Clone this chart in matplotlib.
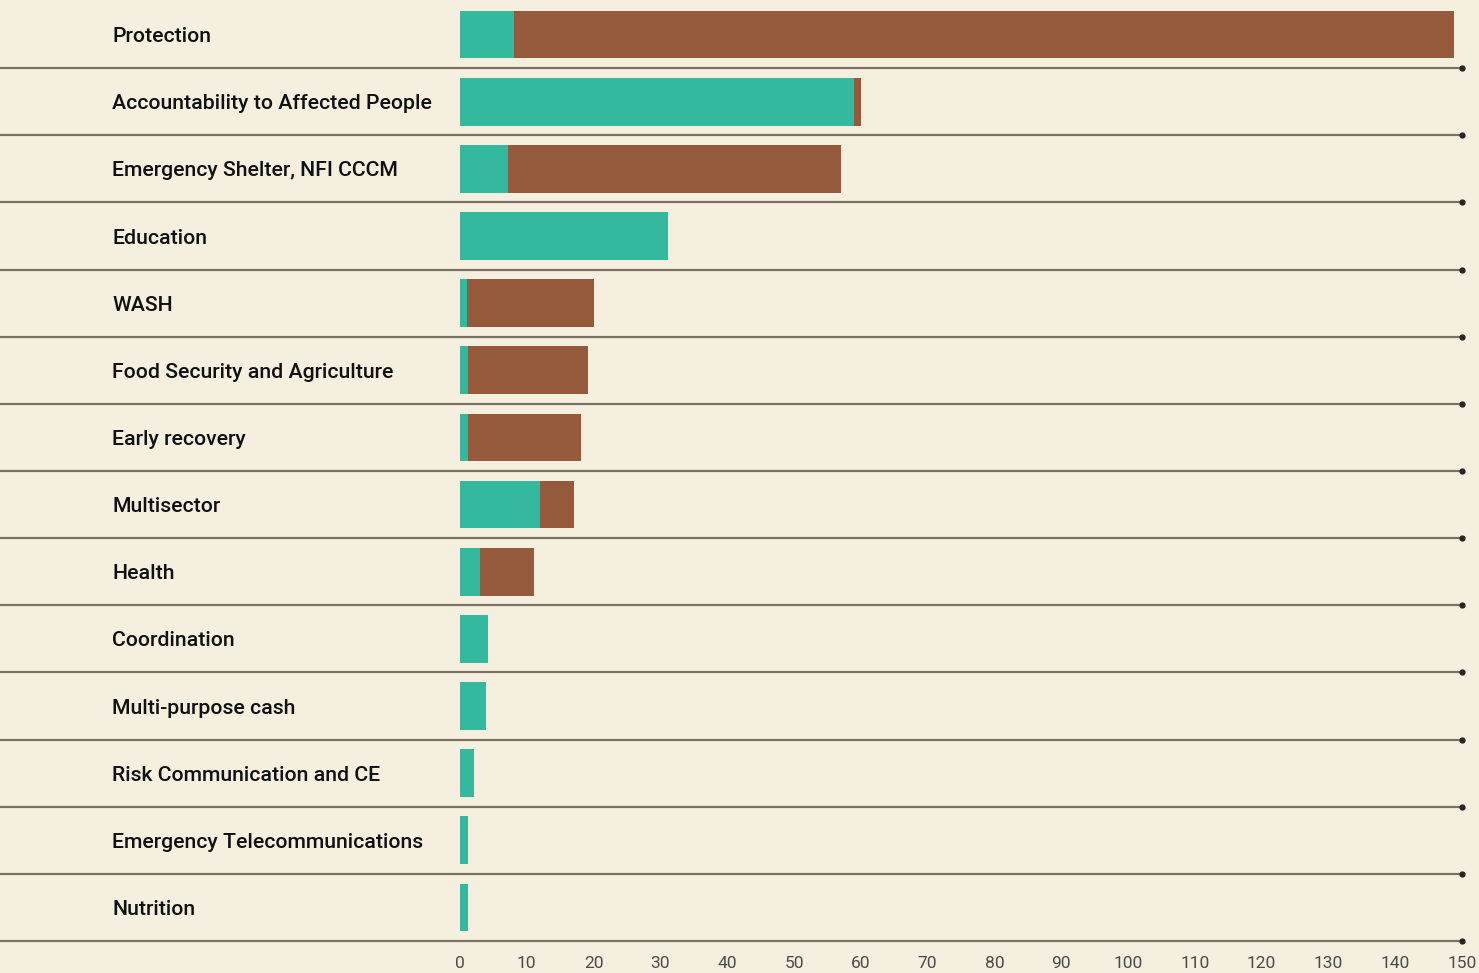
import matplotlib.pyplot as plt
import numpy as np

categories = [
    "Protection", "Accountability to Affected People", "Emergency Shelter, NFI CCCM",
    "Education", "WASH", "Food Security and Agriculture", "Early recovery",
    "Multisector", "Health", "Coordination", "Multi-purpose cash",
    "Risk Communication and CE", "Emergency Telecommunications", "Nutrition",
]
# teal segment and brown segment (stacked)
teal_vals = [8.1, 59.0, 7.2, 31.1, 1.0, 1.2, 1.2, 12.0, 3.0, 4.2, 3.9, 2.1, 1.2, 1.2]
brown_vals = [140.7, 1.0, 49.8, 0.0, 19.0, 18.0, 16.9, 5.1, 8.1, 0.0, 0.0, 0.0, 0.0, 0.0]
xticks = list(range(0, 151, 10))

bg = "#f5efe0"
teal = "#35b99e"
brown = "#955a3c"
line_col = "#7a7165"

plt.rcParams['font.family'] = ['Roboto', 'DejaVu Sans']

fig = plt.figure(figsize=(14.79, 9.73), dpi=100, facecolor=bg)
ax = fig.add_axes([0, 1 - 941 / 973, 1462 / 1479, 940 / 973])
ax.set_facecolor(bg)

xmin = -460 / (1002 / 150)
n = len(categories)
y = np.arange(n)

ax.barh(y, teal_vals, height=0.71, color=teal, zorder=2)
ax.barh(y, brown_vals, left=teal_vals, height=0.71, color=brown, zorder=2)

for i, cat in enumerate(categories):
    ax.text(xmin + 112 / (1002 / 150), i, cat, va='center_baseline', ha='left',
            fontsize=15.3, fontweight='medium', color='#111111')
    ax.plot([xmin, 150], [i + 0.5, i + 0.5], color=line_col, lw=1.6, zorder=1,
            solid_capstyle='butt', clip_on=False)
    ax.plot([150], [i + 0.5], marker='o', ms=3.5, color='#2a2420', zorder=3, clip_on=False)

ax.set_xlim(xmin, 150)
ax.set_ylim(n - 0.5, -0.5)
ax.set_xticks(xticks)
ax.set_xticklabels([str(t) for t in xticks], fontsize=12.5, color='#4a4a4a')
ax.tick_params(axis='x', length=0, pad=11)
ax.set_yticks([])
for s in ax.spines.values():
    s.set_visible(False)

fig.savefig("out.png", dpi=100, facecolor=bg)
